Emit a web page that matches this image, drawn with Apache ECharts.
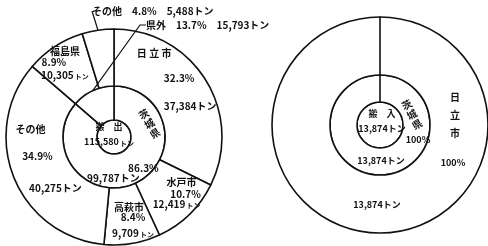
<!DOCTYPE html>
<html>
<head>
<meta charset="utf-8">
<script src="https://cdn.jsdelivr.net/npm/echarts@6/dist/echarts.min.js"></script>
<style>
  html, body { margin: 0; padding: 0; background: #fff; }
  #main { width: 488px; height: 246px; }
</style>
</head>
<body>
<div id="main"></div>
<script>
// 搬出
var outTotal = 115580;
var outPrefNames = ['茨城県', '県外'];
var outPrefTons = [99787, 15793];
var outPrefPct = ['86.3%', '13.7%'];
var outCityNames = ['日立市', '水戸市', '高萩市', 'その他', '福島県', 'その他'];
var outCityTons = [37384, 12419, 9709, 40275, 10305, 5488];
var outCityPct = ['32.3%', '10.7%', '8.4%', '34.9%', '8.9%', '4.8%'];

// 搬入
var inTotal = 13874;
var inPrefNames = ['茨城県', '県外'];
var inPrefTons = [13874, 0];
var inPrefPct = ['100%', '0%'];
var inCityNames = ['日立市', 'その他'];
var inCityTons = [13874, 0];
var inCityPct = ['100%', '0%'];

var INK = '#111';
var FONT = '"Noto Sans CJK JP", sans-serif';

function tons(v, small) {
    return v.toLocaleString('en-US') + (small ? '{s|トン}' : 'トン');
}
function spaced(s) { return s.split('').join(' '); }
function wide(s) { return s.split('').join('　'); }
function vertical(s) { return s.split('').join('\n'); }
// 回転したラベルの offset は回転後の座標で効くので戻しておく
function rotOffset(d, deg) {
    var a = deg * Math.PI / 180;
    return [d[0] * Math.cos(a) - d[1] * Math.sin(a), d[0] * Math.sin(a) + d[1] * Math.cos(a)];
}

// 枠線だけのリング
function ring(center, radius, names, vals) {
    return {
        type: 'pie', center: center, radius: radius, startAngle: 90,
        silent: true, animation: false, z: 2,
        label: { show: false }, labelLine: { show: false },
        itemStyle: { color: '#fff', borderColor: INK, borderWidth: 1.6 },
        data: names.map(function (n, i) { return { name: n, value: vals[i] }; })
    };
}

// 文字だけのレイヤー（同じデータで重ねる）
function textLayer(center, radius, names, vals, texts, offs, extra) {
    return {
        type: 'pie', center: center, radius: radius, startAngle: 90,
        silent: true, animation: false, z: 5,
        avoidLabelOverlap: false,
        labelLayout: { hideOverlap: false },
        itemStyle: { color: 'transparent', borderWidth: 0 },
        label: {
            show: true, position: 'inside', color: INK, fontFamily: FONT,
            fontSize: 10, fontWeight: 'bold', lineHeight: 12,
            rich: { s: { fontSize: 7, fontWeight: 'bold', color: INK, fontFamily: FONT, padding: [3, 0, 0, 1] } }
        },
        labelLine: { show: false },
        data: names.map(function (n, i) {
            var lab = { show: texts[i] !== '', formatter: texts[i], offset: offs[i] || [0, 0] };
            var ex = (extra && extra[i]) || {};
            for (var k in ex.label || {}) lab[k] = ex.label[k];
            var d = { name: n, value: vals[i], label: lab };
            if (ex.labelLine) d.labelLine = ex.labelLine;
            return d;
        })
    };
}

var LC = [114, 137], RC = [380, 125];
var guide = { show: true, length: 6, length2: 6, lineStyle: { color: INK, width: 1.2 } };
var topLabel = { position: 'outside', overflow: 'none', width: 200 };
var small9 = { label: { fontSize: 9 } };

var series = [
    // 左：搬出
    ring(LC, [0, 17], ['搬出'], [outTotal]),
    ring(LC, [17, 51], outPrefNames, outPrefTons),
    ring(LC, [51, 108], outCityNames, outCityTons),
    textLayer(LC, [0, 17], ['搬出'], [outTotal],
        [wide('搬出') + '\n' + tons(outTotal, true)], [[-5, -3]],
        [{ label: { position: 'center', fontSize: 9, lineHeight: 15 } }]),
    // 茨城県 / 県外
    (function () {
        var s = textLayer(LC, [17, 51], outPrefNames, outPrefTons,
            [vertical(outPrefNames[0]),
             outPrefNames[1] + '　' + outPrefPct[1] + '　' + tons(outPrefTons[1])],
            [rotOffset([20, -47], 30), [0, 0]],
            [{ label: { rotate: 30, lineHeight: 11 } },
             { label: topLabel, labelLine: guide }]);
        s.labelLayout = function (p) {
            if (p.dataIndex === 1) return { x: 146, y: 25, align: 'left', verticalAlign: 'middle', hideOverlap: false };
            return { hideOverlap: false };
        };
        return s;
    })(),
    textLayer(LC, [17, 51], outPrefNames, outPrefTons,
        [outPrefPct[0], ''], [[14, -2]]),
    textLayer(LC, [17, 51], outPrefNames, outPrefTons,
        [tons(outPrefTons[0]), ''], [[-16, 8]]),
    // 市町村
    (function () {
        var t = outCityNames.map(function (n, i) { return i === 0 ? spaced(n) : n; });
        t[5] = outCityNames[5] + '　' + outCityPct[5] + '　' + tons(outCityTons[5]);
        var s = textLayer(LC, [51, 108], outCityNames, outCityTons, t,
            [[-30, -40], [10, -14], [1, -11], [-7, -39], [-4, -17], [0, 0]],
            [null, null, null, null, null, { label: topLabel, labelLine: guide }]);
        s.labelLayout = function (p) {
            if (p.dataIndex === 5) return { x: 92, y: 11, align: 'left', verticalAlign: 'middle', hideOverlap: false };
            return { hideOverlap: false };
        };
        return s;
    })(),
    textLayer(LC, [51, 108], outCityNames, outCityTons,
        outCityPct.map(function (p, i) { return i === 5 ? '' : p; }),
        [[-5, -15], [14, -2], [5, -1], [0, -12], [-15, -6]]),
    textLayer(LC, [51, 108], outCityNames, outCityTons,
        outCityTons.map(function (v, i) { return i === 5 ? '' : tons(v, i === 1 || i === 2 || i === 4); }),
        [[6, 13], [5, 8], [5, 15], [18, 20], [-4, 7]]),

    // 右：搬入
    ring(RC, [0, 23], ['搬入'], [inTotal]),
    ring(RC, [23, 50], inPrefNames, inPrefTons),
    ring(RC, [50, 108], inCityNames, inCityTons),
    textLayer(RC, [0, 23], ['搬入'], [inTotal],
        [wide('搬入') + '\n' + tons(inTotal)], [[2, -4]],
        [{ label: { position: 'center', fontSize: 9, lineHeight: 15 } }]),
    textLayer(RC, [23, 50], inPrefNames, inPrefTons,
        [vertical(inPrefNames[0]), ''], [rotOffset([32, -50], 28)],
        [{ label: { rotate: 28, lineHeight: 11 } }]),
    textLayer(RC, [23, 50], inPrefNames, inPrefTons,
        [inPrefPct[0], ''], [[38, -25]], [small9]),
    textLayer(RC, [23, 50], inPrefNames, inPrefTons,
        [tons(inPrefTons[0]), ''], [[1, -4]], [small9]),
    textLayer(RC, [50, 108], inCityNames, inCityTons,
        [vertical(inCityNames[0]), ''], [[75, -92]],
        [{ label: { lineHeight: 18 } }]),
    textLayer(RC, [50, 108], inCityNames, inCityTons,
        [inCityPct[0], ''], [[73, -44]], [small9]),
    textLayer(RC, [50, 108], inCityNames, inCityTons,
        [tons(inCityTons[0]), ''], [[-3, -2]], [small9])
];

var myChart = echarts.init(document.getElementById('main'));
myChart.setOption({
    backgroundColor: '#fff',
    animation: false,
    series: series
});
</script>
</body>
</html>
